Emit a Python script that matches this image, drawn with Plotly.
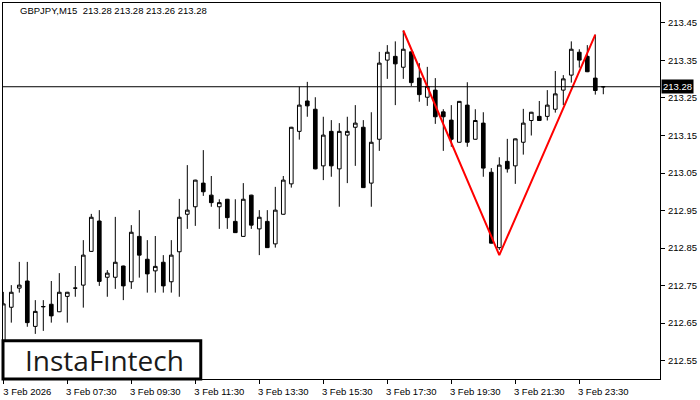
import plotly.graph_objects as go

# ---- data (GBPJPY M15) ----
bar_index = list(range(76))
opens = [212.58, 212.692, 212.743, 212.762, 212.641, 212.693, 212.700, 212.680, 212.721, 212.743,
         212.751, 212.841, 212.922, 212.772, 212.772, 212.802, 212.760, 212.881, 212.820, 212.789,
         212.812, 212.760, 212.840, 212.940, 212.960, 213.023, 212.991, 212.960, 212.980, 212.921,
         212.881, 212.991, 212.901, 212.921, 212.861, 212.940, 213.021, 213.161, 213.242, 213.220,
         213.069, 213.161, 213.061, 213.151, 213.172, 213.172, 213.023, 213.140, 213.351, 213.361,
         213.332, 213.373, 213.303, 213.252, 213.271, 213.213, 213.191, 213.132, 213.231, 213.140,
         213.183, 213.052, 212.851, 213.081, 213.069, 213.132, 213.190, 213.201, 213.201, 213.220,
         213.271, 213.311, 213.372, 213.361, 213.303, 213.28]
highs = [212.733, 212.751, 212.813, 212.813, 212.711, 212.711, 212.762, 212.783, 212.733, 212.802,
         212.871, 212.941, 212.951, 212.791, 212.933, 212.803, 212.911, 212.951, 212.871, 212.882,
         212.831, 212.871, 212.981, 213.071, 213.032, 213.111, 213.042, 212.980, 212.981, 212.980,
         213.023, 212.992, 212.951, 212.951, 213.013, 213.042, 213.173, 213.280, 213.293, 213.252,
         213.200, 213.191, 213.183, 213.200, 213.231, 213.191, 213.212, 213.373, 213.391, 213.401,
         213.430, 213.374, 213.343, 213.333, 213.303, 213.220, 213.231, 213.242, 213.292, 213.220,
         213.212, 213.063, 213.092, 213.141, 213.142, 213.221, 213.213, 213.242, 213.271, 213.322,
         213.311, 213.401, 213.380, 213.391, 213.419, 213.28]
lows = [212.56, 212.651, 212.731, 212.640, 212.621, 212.629, 212.651, 212.679, 212.651, 212.720,
        212.691, 212.840, 212.749, 212.720, 212.741, 212.711, 212.741, 212.771, 212.731, 212.731,
        212.731, 212.731, 212.720, 212.901, 212.909, 212.989, 212.960, 212.901, 212.901, 212.890,
        212.880, 212.901, 212.831, 212.850, 212.851, 212.939, 213.011, 213.139, 213.200, 213.060,
        213.031, 213.040, 212.960, 213.023, 213.069, 213.010, 212.960, 213.109, 213.301, 213.231,
        213.301, 213.282, 213.240, 213.229, 213.181, 213.109, 213.120, 213.131, 213.120, 213.139,
        213.040, 212.862, 212.845, 213.051, 213.021, 213.099, 213.150, 213.189, 213.190, 213.211,
        213.231, 213.291, 213.331, 213.319, 213.259, 213.26]
closes = [212.701, 212.732, 212.751, 212.651, 212.681, 212.694, 212.669, 212.732, 212.732, 212.743,
          212.831, 212.932, 212.761, 212.783, 212.812, 212.749, 212.892, 212.831, 212.781, 212.801,
          212.749, 212.831, 212.932, 212.951, 213.031, 213.000, 212.971, 212.971, 212.931, 212.891,
          212.980, 212.911, 212.932, 212.851, 212.951, 213.031, 213.172, 213.231, 213.229, 213.061,
          213.151, 213.069, 213.161, 213.161, 213.183, 213.011, 213.132, 213.343, 213.372, 213.341,
          213.380, 213.291, 213.259, 213.281, 213.200, 213.200, 213.140, 213.241, 213.132, 213.190,
          213.063, 212.863, 213.071, 213.061, 213.141, 213.183, 213.212, 213.190, 213.231, 213.261,
          213.301, 213.380, 213.351, 213.320, 213.270, 213.28]

pattern_x = [50, 62, 74]
pattern_y = [213.43, 212.831, 213.419]

current_price = 213.28
header_text = "GBPJPY,M15  213.28 213.28 213.26 213.28"

x_tick_pos = [0, 8, 16, 24, 32, 40, 48, 56, 64, 72]
x_tick_text = ["3 Feb 2026", "3 Feb 07:30", "3 Feb 09:30", "3 Feb 11:30", "3 Feb 13:30",
               "3 Feb 15:30", "3 Feb 17:30", "3 Feb 19:30", "3 Feb 21:30", "3 Feb 23:30"]
y_ticks = [212.55, 212.65, 212.75, 212.85, 212.95, 213.05, 213.15, 213.25, 213.35, 213.45]

FONT = "Liberation Sans"

fig = go.Figure()
fig.add_trace(go.Candlestick(
    x=bar_index, open=opens, high=highs, low=lows, close=closes,
    increasing=dict(line=dict(color="black", width=1), fillcolor="white"),
    decreasing=dict(line=dict(color="black", width=1), fillcolor="black"),
    whiskerwidth=0, hoverinfo="skip", showlegend=False,
))
fig.add_trace(go.Scatter(
    x=pattern_x, y=pattern_y, mode="lines",
    line=dict(color="#ff0000", width=2), hoverinfo="skip", showlegend=False,
))

fig.add_shape(type="line", xref="paper", yref="y", x0=0, x1=1,
              y0=current_price, y1=current_price, line=dict(color="black", width=1))

# logo box
fig.add_shape(type="rect", xref="paper", yref="paper", x0=0.0, x1=0.301, y0=0.0, y1=0.102,
              fillcolor="white", line=dict(color="black", width=3), layer="above")
fig.add_annotation(xref="paper", yref="paper", x=0.1545, y=0.051, text="InstaFıntech",
                   showarrow=False, font=dict(family="Open Sans", size=28, color="#1a1a1a"),
                   xanchor="center", yanchor="middle")

fig.add_annotation(xref="paper", yref="paper", x=0.0228, y=0.979, text=header_text,
                   showarrow=False, xanchor="left", yanchor="middle",
                   font=dict(family=FONT, size=9.5, color="black"))

fig.add_annotation(xref="paper", yref="y", x=1.0, y=current_price, text="213.28",
                   showarrow=False, xanchor="left", yanchor="middle", xshift=1,
                   bgcolor="black", borderpad=1,
                   font=dict(family=FONT, size=9.5, color="white"))

fig.update_layout(
    width=700, height=400,
    margin=dict(l=3, r=40, t=3, b=21),
    paper_bgcolor="white", plot_bgcolor="white",
    boxgap=0.35,
    hovermode=False,
    font=dict(family=FONT, size=9.5, color="black"),
    xaxis=dict(range=[-0.0375, 82.0875], rangeslider=dict(visible=False),
               tickmode="array", tickvals=x_tick_pos, ticktext=x_tick_text,
               ticks="outside", ticklen=4, tickcolor="black",
               showline=True, linecolor="black", linewidth=1, mirror=True,
               showgrid=False, zeroline=False, ticklabelshift=24, ticklabelstandoff=0),
    yaxis=dict(range=[212.5007, 213.5033], side="right",
               tickmode="array", tickvals=y_ticks, ticktext=[f"{v:.2f}" for v in y_ticks],
               ticks="outside", ticklen=4, tickcolor="black",
               showline=True, linecolor="black", linewidth=1, mirror=True,
               showgrid=False, zeroline=False, ticklabelstandoff=1),
)

fig.write_html("out.html", config={"displayModeBar": False},
               post_script="document.body.style.margin='0';document.body.style.overflow='hidden';")
